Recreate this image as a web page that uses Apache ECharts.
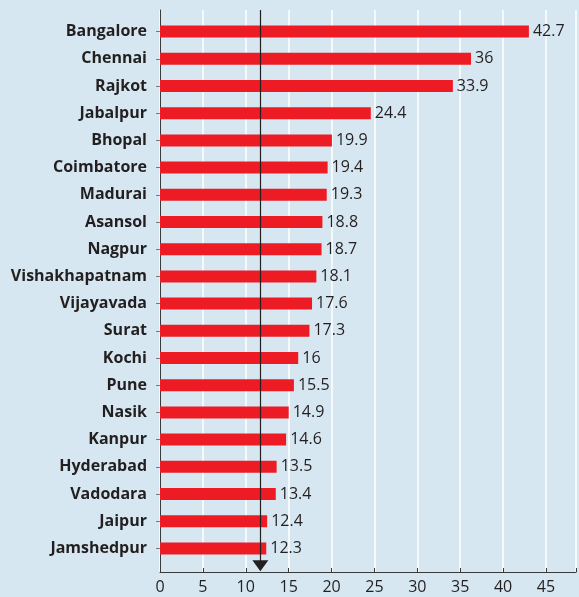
<!DOCTYPE html>
<html>
<head>
<meta charset="utf-8" />
<title>Cities</title>
<script src="https://cdn.jsdelivr.net/npm/echarts@6/dist/echarts.min.js"></script>
<style>
  html, body { margin: 0; padding: 0; background: #d6e7f1; }
  #main { width: 579px; height: 597px; }
</style>
</head>
<body>
<div id="main"></div>
<script type="text/javascript">
    // cities, top to bottom
    var cities = ['Bangalore', 'Chennai', 'Rajkot', 'Jabalpur', 'Bhopal', 'Coimbatore', 'Madurai',
        'Asansol', 'Nagpur', 'Vishakhapatnam', 'Vijayavada', 'Surat', 'Kochi', 'Pune', 'Nasik',
        'Kanpur', 'Hyderabad', 'Vadodara', 'Jaipur', 'Jamshedpur'];
    var values = [42.7, 36, 33.9, 24.4, 19.9, 19.4, 19.3, 18.8, 18.7, 18.1, 17.6, 17.3, 16, 15.5,
        14.9, 14.6, 13.5, 13.4, 12.4, 12.3];
    var xTicks = [0, 5, 10, 15, 20, 25, 30, 35, 40, 45];
    var refLine = [11.7];   // marker line with the arrow

    var xMax = 48.5;
    var dark = '#231f20';

    var myChart = echarts.init(document.getElementById('main'));
    myChart.setOption({
        backgroundColor: '#d6e7f1',
        animation: false,
        grid: [
            // bars
            { left: 160, right: 0, top: 18, bottom: 35 },
            // frame: axes, grid lines, marker
            { left: 160, right: 0, top: 10, bottom: 25 }
        ],
        xAxis: [
            { gridIndex: 0, type: 'value', min: 0, max: xMax, show: false },
            {
                gridIndex: 1, type: 'value', min: xTicks[0], max: xMax, interval: 5,
                axisLine: { show: true, lineStyle: { color: '#3a3a3a', width: 1 } },
                axisTick: { show: true, inside: true, length: 4, lineStyle: { color: '#3a3a3a' } },
                axisLabel: {
                    color: dark, fontSize: 16, fontFamily: 'Open Sans', margin: 7,
                    formatter: function (v) { return xTicks.indexOf(v) >= 0 ? String(v) : ''; }
                },
                splitLine: { show: true, lineStyle: { color: '#ffffff', width: 1.5 } }
            }
        ],
        yAxis: [
            {
                gridIndex: 0, type: 'category', data: cities, inverse: true,
                axisLine: { show: false },
                axisTick: { show: true, alignWithLabel: true, length: 4, lineStyle: { color: '#777' } },
                axisLabel: {
                    color: dark, fontSize: 16, fontWeight: 'bold', fontFamily: 'Open Sans', margin: 13
                }
            },
            {
                gridIndex: 1, type: 'value', min: 0, max: 1,
                axisLine: { show: true, lineStyle: { color: '#3a3a3a', width: 1 } },
                axisTick: { show: false }, axisLabel: { show: false }, splitLine: { show: false }
            }
        ],
        series: [
            {
                type: 'bar',
                xAxisIndex: 0, yAxisIndex: 0,
                data: values,
                barWidth: 12,
                itemStyle: { color: '#ed1c24' },
                label: {
                    show: true, position: 'right', distance: 4,
                    color: dark, fontSize: 16, fontFamily: 'Open Sans'
                },
                z: 3
            },
            {
                type: 'line',
                xAxisIndex: 1, yAxisIndex: 1,
                data: [],
                markLine: {
                    silent: true,
                    symbol: ['none', 'triangle'],
                    symbolSize: [16, 11],
                    label: { show: false },
                    lineStyle: { color: '#231f20', width: 1.2, type: 'solid' },
                    data: [[{ coord: [refLine[0], 1] }, { coord: [refLine[0], 0.011] }]]
                },
                z: 5
            }
        ]
    });
</script>
</body>
</html>
